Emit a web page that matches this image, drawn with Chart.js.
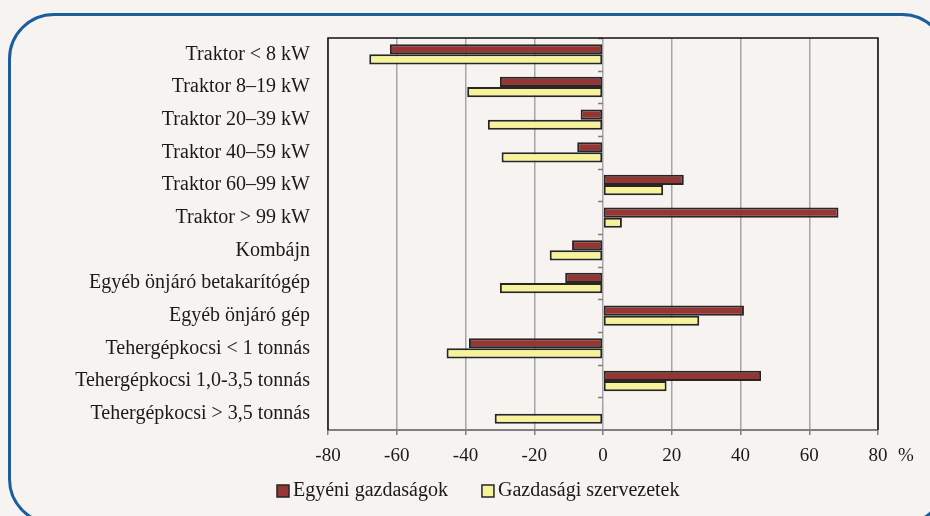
<!DOCTYPE html>
<html>
<head>
<meta charset="utf-8">
<script src="https://cdn.jsdelivr.net/npm/chart.js@4/dist/chart.umd.min.js"></script>
<style>
  html, body { margin: 0; padding: 0; background: #f6f3f0; overflow: hidden; }
  #frame {
    position: absolute; left: 8px; top: 13px; width: 940px; height: 512px;
    border: 3px solid #1b5e9e; border-radius: 46px; box-sizing: border-box;
  }
  #wrap { position: absolute; left: 0; top: 0; width: 930px; height: 516px; }
</style>
</head>
<body>
<div id="frame"></div>
<div id="wrap"><canvas id="chart" width="930" height="516"></canvas></div>
<script>
// data
var categories = [
    'Traktor < 8 kW',
    'Traktor 8–19 kW',
    'Traktor 20–39 kW',
    'Traktor 40–59 kW',
    'Traktor 60–99 kW',
    'Traktor > 99 kW',
    'Kombájn',
    'Egyéb önjáró betakarítógép',
    'Egyéb önjáró gép',
    'Tehergépkocsi < 1 tonnás',
    'Tehergépkocsi 1,0-3,5 tonnás',
    'Tehergépkocsi > 3,5 tonnás'
];
var egyeni = [-62, -30, -6.5, -7.5, 23.5, 68.5, -9, -11, 41, -39, 46, -0.3];
var szervezetek = [-68, -39.5, -33.5, -29.5, 17.5, 5.5, -15.5, -30, 28, -45.5, 18.5, -31.5];
var xTicks = [-80, -60, -40, -20, 0, 20, 40, 60, 80];

var serif = "'Liberation Serif', 'DejaVu Serif', serif";
Chart.defaults.font.family = serif;
Chart.defaults.color = '#1a1a1a';

// plot frame, small category ticks on the zero line, % sign and legend
var framePlugin = {
    id: 'framePlugin',
    afterDraw: function (chart) {
        var ctx = chart.ctx, a = chart.chartArea;
        var x = chart.scales.x, y = chart.scales.y;
        ctx.save();
        ctx.strokeStyle = '#7f7f7f';
        ctx.lineWidth = 1.5;
        var x0 = x.getPixelForValue(0);
        for (var i = 0; i < categories.length; i++) {
            var py = Math.round(y.getPixelForValue(i - 0.5)) + 0.5;
            ctx.beginPath();
            ctx.moveTo(x0 - 5, py);
            ctx.lineTo(x0, py);
            ctx.stroke();
        }
        ctx.strokeStyle = '#111';
        ctx.lineWidth = 1.5;
        ctx.beginPath();
        ctx.moveTo(a.left, a.bottom);
        ctx.lineTo(a.left, a.top);
        ctx.lineTo(a.right, a.top);
        ctx.lineTo(a.right, a.bottom);
        ctx.stroke();

        ctx.fillStyle = '#1a1a1a';
        ctx.font = '19px ' + serif;
        ctx.textBaseline = 'middle';
        ctx.fillText('%', a.right + 20, 456);

        // legend
        ctx.font = '20px ' + serif;
        var lx = 277, ly = 491;
        chart.data.datasets.forEach(function (ds) {
            ctx.fillStyle = ds.backgroundColor;
            ctx.fillRect(lx, ly - 6, 12, 12);
            ctx.strokeStyle = '#262626';
            ctx.lineWidth = 1.5;
            ctx.strokeRect(lx, ly - 6, 12, 12);
            ctx.fillStyle = '#1a1a1a';
            ctx.textAlign = 'left';
            ctx.fillText(ds.label, lx + 16, ly);
            lx += 16 + ctx.measureText(ds.label).width + 34;
        });
        ctx.restore();
    }
};

var ctx = document.getElementById('chart').getContext('2d');
var chart = new Chart(ctx, {
    type: 'bar',
    data: {
        labels: categories,
        datasets: [{
            label: 'Egyéni gazdaságok',
            data: egyeni,
            backgroundColor: '#943634',
            borderColor: '#262626',
            borderWidth: 2,
            borderSkipped: false
        }, {
            label: 'Gazdasági szervezetek',
            data: szervezetek,
            backgroundColor: '#f7f39b',
            borderColor: '#262626',
            borderWidth: 2,
            borderSkipped: false
        }]
    },
    options: {
        indexAxis: 'y',
        responsive: false,
        animation: false,
        layout: { padding: { top: 38, right: 52, bottom: 0, left: 0 } },
        datasets: { bar: { categoryPercentage: 0.62, barPercentage: 1 } },
        plugins: {
            legend: { display: false },
            tooltip: { enabled: false }
        },
        scales: {
            x: {
                min: -80, max: 80,
                afterBuildTicks: function (s) { s.ticks = xTicks.map(function (v) { return { value: v }; }); },
                afterFit: function (s) { s.height = 86; },
                grid: {
                    color: '#a6a6a6', lineWidth: 1.5,
                    drawTicks: true, tickLength: 5, tickColor: '#7f7f7f'
                },
                border: { display: true, color: '#7f7f7f', width: 2 },
                ticks: { font: { size: 19 }, padding: 10 }
            },
            y: {
                afterFit: function (s) { s.width = 328; },
                grid: { display: false, drawTicks: false },
                border: { display: false },
                ticks: { font: { size: 20 }, padding: 18, autoSkip: false }
            }
        }
    },
    plugins: [framePlugin]
});
</script>
</body>
</html>
